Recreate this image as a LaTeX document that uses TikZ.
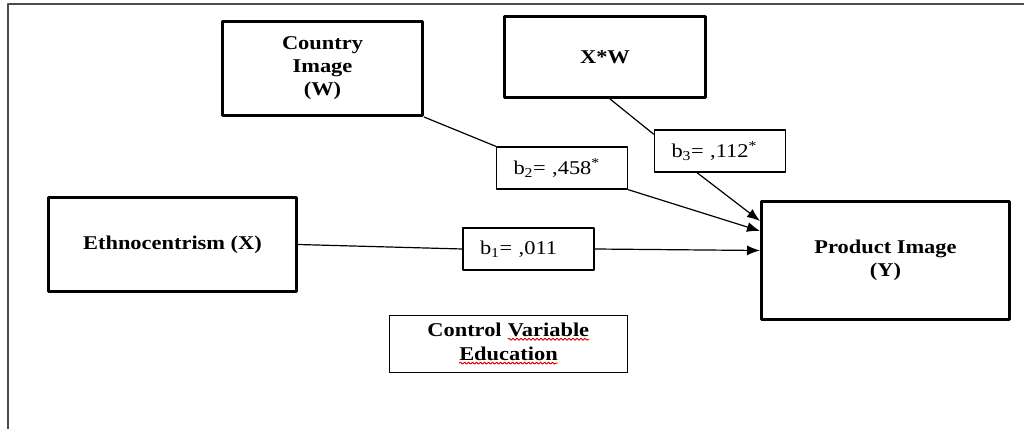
\documentclass[tikz,border=0pt]{standalone}
\usepackage{fontspec}
\setmainfont{Liberation Serif}[FakeStretch=1.15]
\usetikzlibrary{arrows.meta,decorations.pathmorphing}
\newcommand\spellwave[1]{\tikz[baseline=(w.base)]{\node [draw=none,inner sep=0bp,outer sep=0bp,
    minimum width=0bp,minimum height=0bp] (w) {#1};
  \draw [red!85!black,line width=0.9bp,decorate,decoration={snake,amplitude=1bp,segment length=4bp}]
    ([yshift=-2bp]w.south west) -- ([yshift=-2bp]w.south east);}}

\begin{document}
\begin{tikzpicture}[>={Latex[length=13bp,width=10bp]},line join=bevel,
  varbox/.style={draw,line width=3bp,inner sep=0bp,align=center,
    font={\bfseries\fontsize{19.5bp}{23bp}\selectfont}},
  ctrlbox/.style={draw,line width=1.3bp,inner sep=0bp,align=center,
    font={\bfseries\fontsize{19.5bp}{24bp}\selectfont}},
  coefbox/.style={draw,line width=1.3bp,minimum height=42bp,inner xsep=17bp,
    inner ysep=0bp,text width=97bp,align=left,
    font={\fontsize{19.5bp}{23bp}\selectfont}},
  link/.style={line width=1.2bp}]
  \useasboundingbox (0bp,0bp) rectangle (1024bp,429bp);
  % Frame
  \draw [gray!60!black,line width=2bp] (8bp,-5bp) -- (8bp,425bp) -- (1030bp,425bp);
%%
  % Node: country
  \node [varbox,minimum width=200bp,minimum height=94bp] (country) at (322.5bp,360.5bp) {Country\\Image\\(W)};
  % Node: xw
  \node [varbox,minimum width=201bp,minimum height=81bp] (xw) at (605bp,372bp) {X*W};
  % Node: ethno
  \node [varbox,minimum width=248bp,minimum height=94bp] (ethno) at (172.5bp,184.5bp) {Ethnocentrism (X)};
  % Node: product
  \node [varbox,minimum width=248bp,minimum height=118bp] (product) at (885.5bp,168.5bp) {Product Image\\(Y)};
  % Node: control
  \node [ctrlbox,minimum width=238bp,minimum height=57bp] (control) at (508.5bp,85bp) {Control \spellwave{Variable}\\\spellwave{Education}};
  % Node: b1
  \node [coefbox] (b1) at (528.5bp,180bp) {b\textsubscript{1}= ,011};
  % Node: b2
  \node [coefbox] (b2) at (562bp,261bp) {b\textsubscript{2}= ,458\textsuperscript{*}};
  % Node: b3
  \node [coefbox] (b3) at (720bp,278bp) {b\textsubscript{3}= ,112\textsuperscript{*}};
%%
  % Edge: country -> b2 -> product
  \draw [link] (country.south east) -- (b2.north west);
  \draw [link,->] (b2.south east) -- ([yshift=29.5bp]product.west);
  % Edge: xw -> b3 -> product
  \draw [link] ([xshift=5bp]xw.south) -- ([yshift=-5bp]b3.north west);
  \draw [link,->] ([xshift=-23bp]b3.south) -- ([yshift=39.5bp]product.west);
  % Edge: ethno -> b1 -> product
  \draw [link] (ethno.east) -- (b1.west);
  \draw [link,->] (b1.east) -- ([yshift=10bp]product.west);
%
\end{tikzpicture}
\end{document}
